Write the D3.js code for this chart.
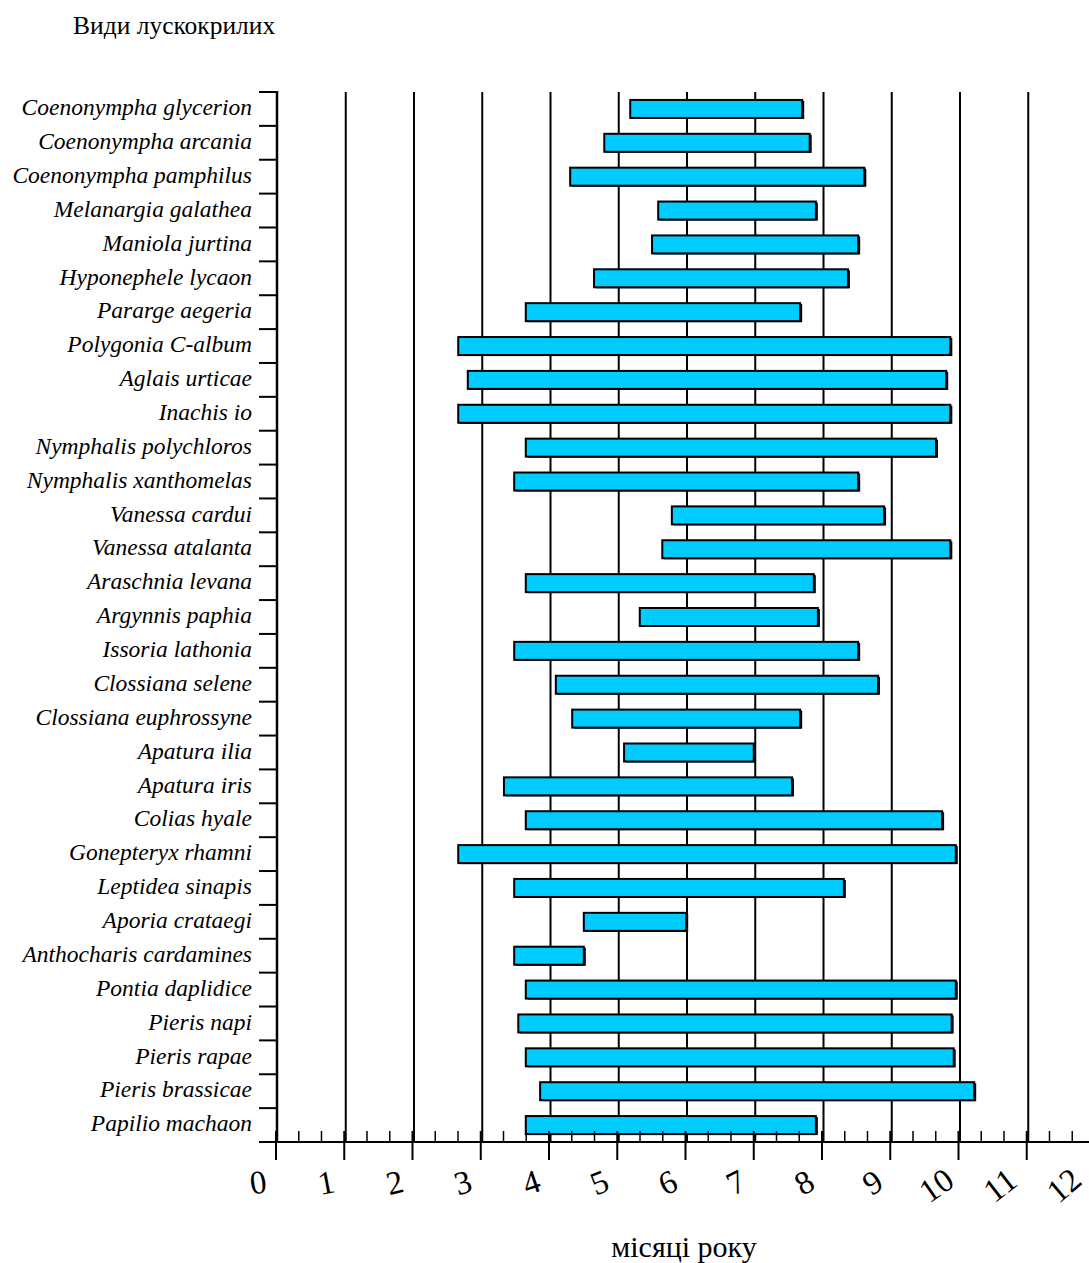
<!DOCTYPE html>
<html><head><meta charset="utf-8">
<script src="https://cdn.jsdelivr.net/npm/d3@7"></script>
<style>body{margin:0;background:#fff;} svg{display:block;}</style>
</head><body>
<script>
const species = ["Coenonympha glycerion","Coenonympha arcania","Coenonympha pamphilus","Melanargia galathea","Maniola jurtina","Hyponephele lycaon","Pararge aegeria","Polygonia C-album","Aglais urticae","Inachis io","Nymphalis polychloros","Nymphalis xanthomelas","Vanessa cardui","Vanessa atalanta","Araschnia levana","Argynnis paphia","Issoria lathonia","Clossiana selene","Clossiana euphrossyne","Apatura ilia","Apatura iris","Colias hyale","Gonepteryx rhamni","Leptidea sinapis","Aporia crataegi","Anthocharis cardamines","Pontia daplidice","Pieris napi","Pieris rapae","Pieris brassicae","Papilio machaon"];
const startMonth = [5.19,4.81,4.31,5.60,5.51,4.66,3.66,2.67,2.81,2.67,3.66,3.49,5.80,5.66,3.66,5.33,3.49,4.10,4.34,5.10,3.34,3.66,2.67,3.49,4.51,3.49,3.66,3.55,3.66,3.87,3.66];
const endMonth   = [7.71,7.82,8.62,7.91,8.53,8.38,7.68,9.88,9.82,9.88,9.67,8.53,8.91,9.88,7.88,7.94,8.53,8.82,7.68,7.00,7.56,9.76,9.96,8.32,6.01,4.51,9.96,9.90,9.93,10.23,7.91];
const monthTicks = [0,1,2,3,4,5,6,7,8,9,10,11,12];
const titleText = "Види лускокрилих";
const xTitle = "місяці року";

const W = 1089, H = 1263;
const svg = d3.select("body").append("svg").attr("width", W).attr("height", H);
const x = d3.scaleLinear().domain([0, 12]).range([276, 1095]);
const y = d3.scaleBand().domain(species).range([92, 1142]).padding(0);
const barH = 18;
const serif = "'Liberation Serif', 'Times New Roman', serif";

// gridlines
svg.append("g").selectAll("line").data(monthTicks.filter(d => d > 0 && d < 12)).join("line")
  .attr("x1", d => x(d) + 1.5).attr("x2", d => x(d) + 1.5)
  .attr("y1", 92).attr("y2", 1142)
  .attr("stroke", "#000").attr("stroke-width", 2);

// bars
const rows = species.map((s, i) => ({s, a: startMonth[i], b: endMonth[i]}));
const bars = svg.append("g");
bars.selectAll("rect.sh").data(rows).join("rect").attr("class", "sh")
  .attr("x", d => x(d.a) + 2).attr("y", d => y(d.s) + y.bandwidth()/2 - barH/2 + 1)
  .attr("width", d => x(d.b) - x(d.a)).attr("height", barH)
  .attr("fill", "#000");
bars.selectAll("rect.b").data(rows).join("rect").attr("class", "b")
  .attr("x", d => x(d.a)).attr("y", d => y(d.s) + y.bandwidth()/2 - barH/2)
  .attr("width", d => x(d.b) - x(d.a)).attr("height", barH)
  .attr("fill", "#00CCFF").attr("stroke", "#000").attr("stroke-width", 2);

// y axis
svg.append("line").attr("x1", 277).attr("x2", 277).attr("y1", 91).attr("y2", 1143)
  .attr("stroke", "#000").attr("stroke-width", 2.5);
const bounds = species.map(s => y(s));
svg.append("g").selectAll("line").data(bounds).join("line")
  .attr("x1", 259).attr("x2", 277).attr("y1", d => d).attr("y2", d => d)
  .attr("stroke", "#000").attr("stroke-width", 2);
svg.append("g").selectAll("text").data(species).join("text")
  .attr("x", 252).attr("y", d => y(d) + y.bandwidth()/2 - 2).attr("dy", "0.35em")
  .attr("text-anchor", "end")
  .attr("font-family", serif).attr("font-style", "italic").attr("font-size", 23.5)
  .text(d => d);

// x axis
svg.append("line").attr("x1", 259).attr("x2", 1089).attr("y1", 1142).attr("y2", 1142)
  .attr("stroke", "#000").attr("stroke-width", 2);
const minor = [];
monthTicks.forEach(m => { if (m < 12) { minor.push(m + 1/3); minor.push(m + 2/3); } });
svg.append("g").selectAll("line").data(minor).join("line")
  .attr("x1", d => x(d)).attr("x2", d => x(d)).attr("y1", 1131).attr("y2", 1142)
  .attr("stroke", "#000").attr("stroke-width", 1.5);
svg.append("g").selectAll("line").data(monthTicks).join("line")
  .attr("x1", d => x(d)).attr("x2", d => x(d)).attr("y1", 1131).attr("y2", 1160)
  .attr("stroke", "#000").attr("stroke-width", 2);
svg.append("g").selectAll("text").data(monthTicks).join("text")
  .attr("transform", d => `translate(${x(d) - 18 - (d > 9 ? (d - 9) * 4.5 : 0)},${1182 + (d > 9 ? 3 : 0)}) rotate(${-8 - 2.7 * d})`)
  .attr("text-anchor", "middle").attr("dy", "0.35em")
  .attr("font-family", serif).attr("font-size", 33)
  .text(d => d);

// titles
svg.append("text").attr("x", 73).attr("y", 34)
  .attr("font-family", serif).attr("font-size", 25.5).text(titleText);
svg.append("text").attr("x", 684).attr("y", 1257).attr("text-anchor", "middle")
  .attr("font-family", serif).attr("font-size", 30).text(xTitle);
</script>
</body></html>
